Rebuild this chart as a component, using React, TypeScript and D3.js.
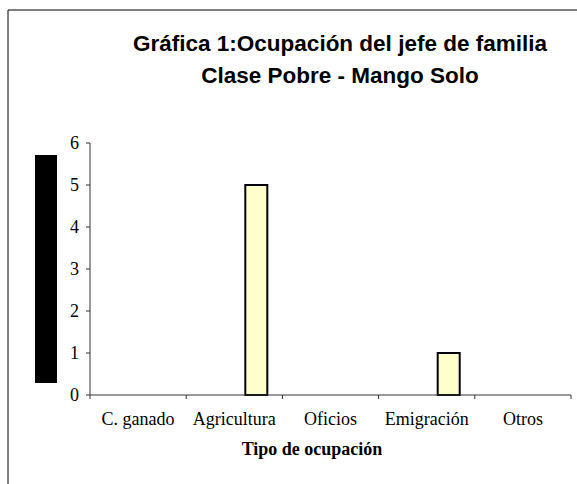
import React from "react";
import * as d3 from "d3";

const categories = ["C. ganado", "Agricultura", "Oficios", "Emigración", "Otros"];
const values = [0, 5, 0, 1, 0];
const yTicks = [0, 1, 2, 3, 4, 5, 6];
const titleLines = ["Gráfica 1:Ocupación del jefe de familia", "Clase Pobre - Mango Solo"];
const xTitle = "Tipo de ocupación";
const seriesSlots = ["a", "b", "c"]; // clustered slots; visible series sits in the last slot

export default function App() {
  const W = 577, H = 484;
  const left = 90, right = 571, top = 143, bottom = 395;
  const x = d3.scaleBand<string>().domain(categories).range([left, right]).paddingInner(0).paddingOuter(0);
  const xs = d3.scaleBand<string>().domain(seriesSlots).range([0, x.bandwidth()]).paddingOuter(0.686).paddingInner(0);
  const y = d3.scaleLinear().domain([0, 6]).range([bottom, top]);
  const serif = "'Liberation Serif', 'Times New Roman', serif";
  const sans = "'Liberation Sans', Arial, sans-serif";
  const tickPositions = [...categories.map((c) => x(c) as number), right];

  return (
    <svg width={W} height={H} style={{ position: "absolute", left: 0, top: 0, background: "#fff" }}>
      <rect x={0} y={0} width={W} height={H} fill="#fff" />
      <line x1={8} y1={10} x2={W} y2={10} stroke="#000" strokeWidth={1} />
      <line x1={8} y1={10} x2={8} y2={H} stroke="#000" strokeWidth={1} />
      {titleLines.map((t, i) => (
        <text key={i} x={340} y={51 + i * 32} textAnchor="middle" fontFamily={sans} fontWeight="bold" fontSize={22.5} fill="#000">
          {t}
        </text>
      ))}
      {/* legend-like black block */}
      <rect x={35} y={155} width={22} height={228} fill="#000" />
      {/* y axis */}
      <line x1={left} y1={top} x2={left} y2={bottom} stroke="#333" strokeWidth={1} />
      {yTicks.map((t) => (
        <g key={t}>
          <line x1={left - 4} x2={left} y1={y(t)} y2={y(t)} stroke="#333" strokeWidth={1} />
          <text x={79} y={y(t) + 6} textAnchor="end" fontFamily={serif} fontSize={18} fill="#000">
            {t}
          </text>
        </g>
      ))}
      {/* bars */}
      {categories.map((c, i) =>
        values[i] > 0 ? (
          <rect
            key={c}
            x={(x(c) as number) + (xs("c") as number)}
            y={y(values[i])}
            width={xs.bandwidth()}
            height={y(0) - y(values[i])}
            fill="#FFFFCC"
            stroke="#000"
            strokeWidth={2}
          />
        ) : null
      )}
      {/* x axis */}
      <line x1={left} y1={bottom} x2={right} y2={bottom} stroke="#333" strokeWidth={1} />
      {tickPositions.map((p, i) => (
        <line key={i} x1={p} x2={p} y1={bottom} y2={bottom + 4} stroke="#333" strokeWidth={1} />
      ))}
      {categories.map((c) => (
        <text key={c} x={(x(c) as number) + x.bandwidth() / 2} y={425} textAnchor="middle" fontFamily={serif} fontSize={18} fill="#000">
          {c}
        </text>
      ))}
      <text x={312} y={455} textAnchor="middle" fontFamily={serif} fontWeight="bold" fontSize={18} fill="#000">
        {xTitle}
      </text>
    </svg>
  );
}
